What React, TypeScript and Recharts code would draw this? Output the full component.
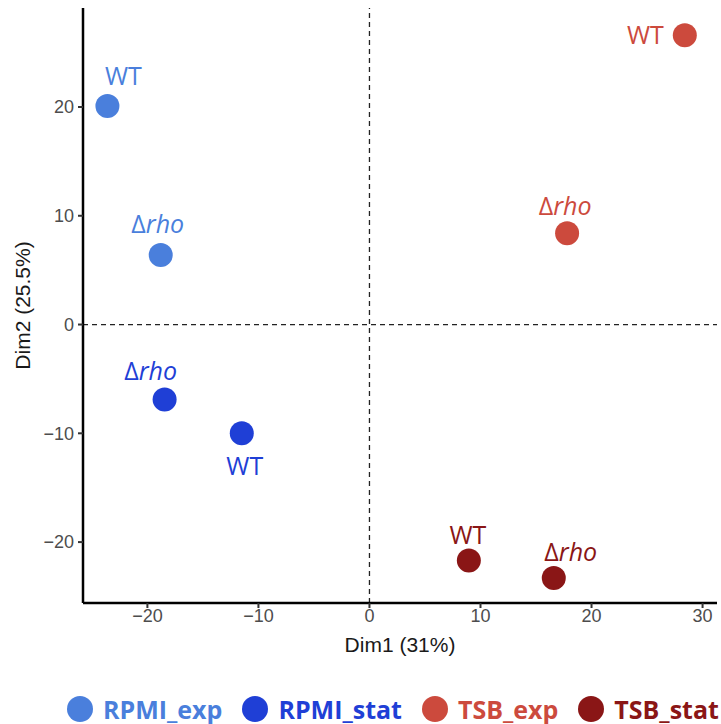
import {
  Legend,
  ReferenceLine,
  Scatter,
  ScatterChart,
  XAxis,
  YAxis,
} from 'recharts';

const rpmiExp = [
  { x: -23.6, y: 20.1, label: 'WT' },
  { x: -18.8, y: 6.4, label: 'Δrho' },
];
const rpmiStat = [
  { x: -18.45, y: -6.9, label: 'Δrho' },
  { x: -11.5, y: -10.0, label: 'WT' },
];
const tsbExp = [
  { x: 28.4, y: 26.6, label: 'WT' },
  { x: 17.8, y: 8.4, label: 'Δrho' },
];
const tsbStat = [
  { x: 8.95, y: -21.7, label: 'WT' },
  { x: 16.6, y: -23.3, label: 'Δrho' },
];

const xTicks = [-20, -10, 0, 10, 20, 30];
const yTicks = [-20, -10, 0, 10, 20];

const series = [
  { name: 'RPMI_exp', data: rpmiExp, color: '#4A7FDC' },
  { name: 'RPMI_stat', data: rpmiStat, color: '#1F3FD6' },
  { name: 'TSB_exp', data: tsbExp, color: '#CC4A3D' },
  { name: 'TSB_stat', data: tsbStat, color: '#8A1616' },
];

// label placement, picked by eye to match the repelled labels
const labelOffsets: Record<string, { dx: number; dy: number; anchor: string }> = {
  'RPMI_exp-WT': { dx: 16, dy: -21, anchor: 'middle' },
  'RPMI_exp-Δrho': { dx: -3, dy: -22, anchor: 'middle' },
  'RPMI_stat-Δrho': { dx: -14, dy: -20, anchor: 'middle' },
  'RPMI_stat-WT': { dx: 3, dy: 42, anchor: 'middle' },
  'TSB_exp-WT': { dx: -21, dy: 9, anchor: 'end' },
  'TSB_exp-Δrho': { dx: -2, dy: -18, anchor: 'middle' },
  'TSB_stat-WT': { dx: -1, dy: -17, anchor: 'middle' },
  'TSB_stat-Δrho': { dx: 17, dy: -17, anchor: 'middle' },
};

const fmt = (v: number) => (v < 0 ? `\u2212${-v}` : `${v}`);

const tickStyle = {
  fill: '#4d4d4d',
  fontSize: 18,
  fontFamily: '"Liberation Sans", Arial, sans-serif',
};

const makeShape = (name: string, color: string) => (props: any) => {
  const { cx, cy, payload } = props;
  const off = labelOffsets[`${name}-${payload.label}`];
  const isRho = payload.label.startsWith('Δ');
  return (
    <g>
      <circle cx={cx} cy={cy} r={12} fill={color} />
      <text
        x={cx + off.dx}
        y={cy + off.dy}
        textAnchor={off.anchor as any}
        fill={color}
        fontSize={25}
        fontFamily='"Open Sans", sans-serif'
      >
        {isRho ? (
          <>
            <tspan>Δ</tspan>
            <tspan fontStyle="italic">rho</tspan>
          </>
        ) : (
          payload.label
        )}
      </text>
    </g>
  );
};

const LegendContent = () => (
  <div
    style={{
      height: 71,
      paddingTop: 40,
      paddingLeft: 67,
      boxSizing: 'border-box',
      display: 'flex',
      alignItems: 'center',
      whiteSpace: 'nowrap',
    }}
  >
    {series.map((s) => (
      <div
        key={s.name}
        style={{ display: 'flex', alignItems: 'center', marginRight: 20 }}
      >
        <svg width={26} height={26}>
          <circle cx={13} cy={13} r={13} fill={s.color} />
        </svg>
        <span
          style={{
            marginLeft: 10,
            color: s.color,
            fontSize: 25,
            fontWeight: 700,
            fontFamily: '"Open Sans", sans-serif',
            lineHeight: '26px',
          }}
        >
          {s.name}
        </span>
      </div>
    ))}
  </div>
);

export default function App() {
  return (
    <div style={{ position: 'absolute', left: 0, top: 0, background: '#fff' }}>
      <ScatterChart
        width={721}
        height={724}
        margin={{ top: 8, right: 4, left: 0, bottom: 0 }}
      >
        <XAxis
          type="number"
          dataKey="x"
          domain={[-25.8, 31.3]}
          ticks={xTicks}
          allowDataOverflow
          tickFormatter={fmt}
          tick={tickStyle}
          tickSize={5}
          tickMargin={1}
          height={50}
          axisLine={{ stroke: '#000', strokeWidth: 2.5 }}
          tickLine={{ stroke: '#333', strokeWidth: 2 }}
          label={({ viewBox }: any) => (
            <text
              x={viewBox.x + viewBox.width / 2}
              y={viewBox.y + 49}
              textAnchor="middle"
              fill="#1a1a1a"
              fontSize={21}
              fontFamily='"Liberation Sans", Arial, sans-serif'
            >
              Dim1 (31%)
            </text>
          )}
        />
        <YAxis
          type="number"
          dataKey="y"
          domain={[-25.6, 29.1]}
          ticks={yTicks}
          allowDataOverflow
          tickFormatter={fmt}
          tick={tickStyle}
          tickSize={5}
          tickMargin={4}
          width={83}
          axisLine={{ stroke: '#000', strokeWidth: 2.5 }}
          tickLine={{ stroke: '#333', strokeWidth: 2 }}
          label={({ viewBox }: any) => {
            const cy = viewBox.y + viewBox.height / 2;
            return (
              <text
                x={30}
                y={cy}
                transform={`rotate(-90, 30, ${cy})`}
                textAnchor="middle"
                fill="#1a1a1a"
                fontSize={21}
                fontFamily='"Liberation Sans", Arial, sans-serif'
              >
                Dim2 (25.5%)
              </text>
            );
          }}
        />
        <ReferenceLine x={0} stroke="#222" strokeDasharray="5 4" strokeWidth={1.3} />
        <ReferenceLine y={0} stroke="#222" strokeDasharray="5 4" strokeWidth={1.3} />
        {series.map((s) => (
          <Scatter
            key={s.name}
            name={s.name}
            data={s.data}
            fill={s.color}
            shape={makeShape(s.name, s.color)}
            isAnimationActive={false}
          />
        ))}
        <Legend
          verticalAlign="bottom"
          height={71}
          wrapperStyle={{ left: 0, width: 721 }}
          content={LegendContent}
        />
      </ScatterChart>
    </div>
  );
}
